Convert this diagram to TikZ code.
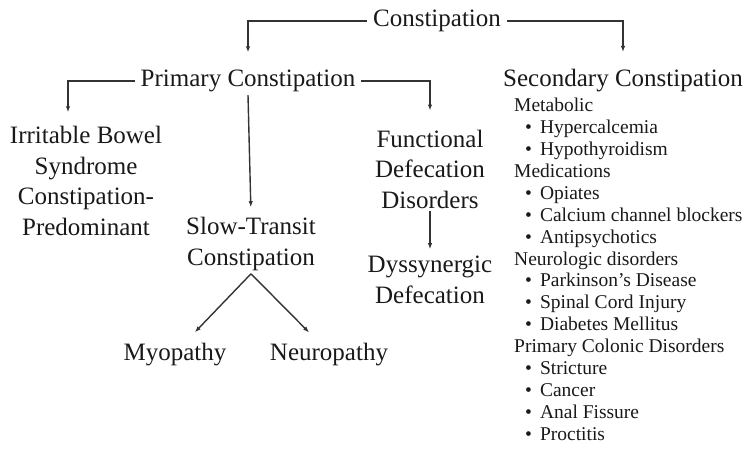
\documentclass[tikz,border=0pt]{standalone}
\usepackage{fontspec}
\setmainfont{Liberation Serif}
\usetikzlibrary{arrows.meta,positioning,calc}

\newcommand{\causeitem}[1]{\hspace*{11pt}\textbullet\hspace{8pt}#1}

\begin{document}
\begin{tikzpicture}[x=1pt, y=-1pt, >={Latex[length=6pt,width=4.5pt]}]
    \tikzstyle{lbl} = [inner sep=3pt, align=center, font=\fontsize{25}{30.5}\selectfont, text=black!90]
    \tikzstyle{listing} = [inner sep=0pt, align=left, font=\fontsize{19.5}{21.9}\selectfont, text=black!90]
    \tikzstyle{arrow} = [draw=black!80, ->, line width=1.4pt]

    \useasboundingbox (0,0) rectangle (746,450);

    \node [lbl, inner xsep=6pt] (cons) at (437,21) {Constipation};
    \node [lbl, inner xsep=6pt] (prim) at (248,81) {Primary Constipation};
    \node [lbl] (sec) at (623,81) {Secondary Constipation};
    \node [lbl] (ibs) at (86,181) {Irritable Bowel\\Syndrome\\Constipation-\\Predominant};
    \node [lbl] (slow) at (251,244) {Slow-Transit\\Constipation};
    \node [lbl] (func) at (430,169) {Functional\\Defecation\\Disorders};
    \node [lbl] (dys) at (430,280) {Dyssynergic\\Defecation};
    \node [lbl] (myo) at (175,355) {Myopathy};
    \node [lbl] (neuro) at (329,355) {Neuropathy};
    \node [listing, anchor=north west] (causes) at (514,98) {Metabolic\\
        \causeitem{Hypercalcemia}\\
        \causeitem{Hypothyroidism}\\
        Medications\\
        \causeitem{Opiates}\\
        \causeitem{Calcium channel blockers}\\
        \causeitem{Antipsychotics}\\
        Neurologic disorders\\
        \causeitem{Parkinson’s Disease}\\
        \causeitem{Spinal Cord Injury}\\
        \causeitem{Diabetes Mellitus}\\
        Primary Colonic Disorders\\
        \causeitem{Stricture}\\
        \causeitem{Cancer}\\
        \causeitem{Anal Fissure}\\
        \causeitem{Proctitis}};

    % branches
    \draw [arrow, shorten >=14.5pt] (cons.west) -| (prim.north);
    \draw [arrow, shorten >=14.5pt] (cons.east) -| (sec.north);
    \draw [arrow, shorten >=11pt] (prim.west) -| ([xshift=-18pt]ibs.north);
    \draw [arrow, shorten >=16pt] (prim.east) -| (func.north);
    \draw [arrow, shorten >=7pt] (prim.south) -- (slow.north);
    \draw [arrow, shorten >=4pt] (func.south) -- (dys.north);
    \draw [arrow, shorten >=11.4pt] (slow.south) -- ([xshift=12pt]myo.north);
    \draw [arrow, shorten >=11.3pt] (slow.south) -- ([xshift=-12pt]neuro.north);
\end{tikzpicture}
\end{document}
